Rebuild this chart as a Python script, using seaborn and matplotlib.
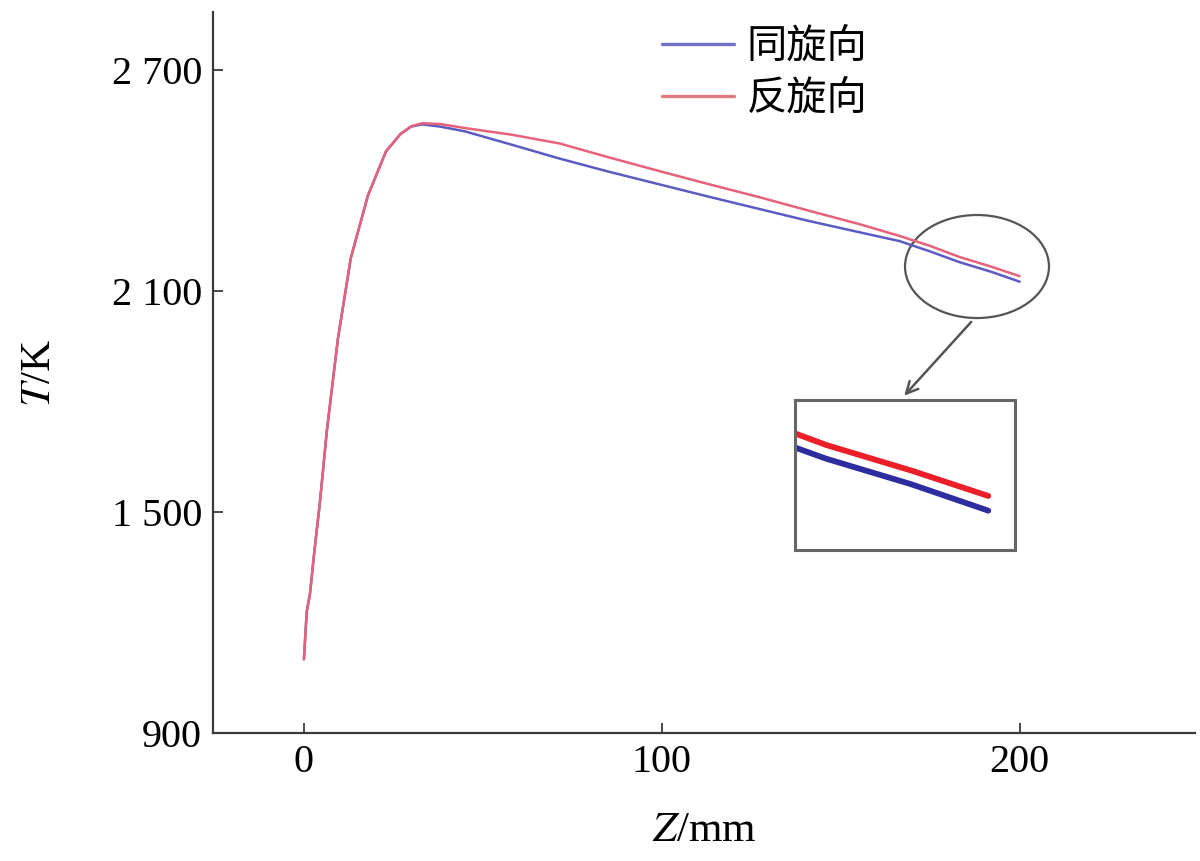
import numpy as np
import pandas as pd
import matplotlib
matplotlib.use("Agg")
import matplotlib.pyplot as plt
from matplotlib.patches import Ellipse
from matplotlib.lines import Line2D
import seaborn as sns

# ---- data ----
z_mm = [0, 0.8, 1.7, 3.0, 4.4, 6.4, 9.5, 13.1, 17.9, 22.9, 27, 30, 33, 38, 45,
        58, 71.5, 85, 99.4, 113, 127.4, 141, 155.3, 166.5, 175, 183.2, 192, 200]
t_same = [1100, 1230, 1278, 1400, 1519, 1719, 1970, 2189, 2359, 2478, 2526, 2546,
          2552, 2546, 2533, 2497, 2459, 2424, 2389, 2356, 2322, 2290, 2259, 2235,
          2207, 2178, 2152, 2125]
t_rev = [1100, 1230, 1278, 1400, 1519, 1719, 1970, 2189, 2359, 2478, 2526, 2547,
         2555, 2553, 2542, 2524, 2500, 2463, 2425, 2390, 2354, 2318, 2281, 2249,
         2222, 2192, 2166, 2140]
series_names = ["同旋向", "反旋向"]
y_ticks = [900, 1500, 2100, 2700]
x_ticks = [0, 100, 200]

df = pd.DataFrame({
    "Z": z_mm + z_mm,
    "T": t_same + t_rev,
    "case": [series_names[0]] * len(z_mm) + [series_names[1]] * len(z_mm),
})

sns.set_theme(style="white")
plt.rcParams["font.family"] = ["Liberation Serif", "Noto Sans CJK SC", "DejaVu Sans"]
plt.rcParams["mathtext.fontset"] = "stix"
plt.rcParams["text.color"] = "black"
plt.rcParams["axes.labelcolor"] = "black"

fig = plt.figure(figsize=(12, 8.61), dpi=100)
L, R, T_, B = 213, 1195, 12, 733
ax = fig.add_axes([L / 1200, 1 - B / 861, (R - L) / 1200, (B - T_) / 861])

main_pal = {series_names[0]: "#5b5bc4", series_names[1]: "#e6627a"}
sns.lineplot(data=df, x="Z", y="T", hue="case", palette=main_pal, ax=ax,
             linewidth=1.8, legend=False, sort=False)

ax.set_xlim(-25.4, 249)
ax.set_ylim(900, 2857)
for s in ["top", "right"]:
    ax.spines[s].set_visible(False)
for s in ["left", "bottom"]:
    ax.spines[s].set_color("#3a3a3a")
    ax.spines[s].set_linewidth(1.6)

ax.set_xticks(x_ticks)
ax.set_xticklabels([str(v) for v in x_ticks])
ax.set_yticks(y_ticks)
ax.set_yticklabels([f"{v:,}".replace(",", " ") for v in y_ticks])
ax.tick_params(axis="both", direction="in", length=7, width=1.3, color="#3a3a3a",
               labelsize=29, pad=8, labelcolor="black", bottom=True, left=True)
ax.yaxis.get_major_ticks()[0].tick1line.set_visible(False)

ax.set_xlabel(r"$Z$/mm", fontsize=31, labelpad=22)
ax.set_ylabel(r"$T$/K", fontsize=31, labelpad=38)

# legend
legend_pal = {series_names[0]: "#6f6fcc", series_names[1]: "#e27a80"}
handles = [Line2D([], [], color=legend_pal[n], lw=2.4) for n in series_names]
leg = ax.legend(handles, series_names, loc="upper left",
                bbox_to_anchor=(0.457, 0.981), frameon=False,
                prop={"family": ["Noto Sans CJK SC"], "size": 29},
                handlelength=1.8, handletextpad=0.3, labelspacing=0.28,
                borderpad=0, borderaxespad=0)
for t in leg.get_texts():
    t.set_color("black")

# ellipse + arrow
ell = Ellipse((0.778, 0.647), 0.1466, 0.1429, transform=ax.transAxes,
              fill=False, edgecolor="#555555", lw=1.6)
ax.add_patch(ell)
ax.annotate("", xy=(0.702, 0.465), xytext=(0.774, 0.573),
            xycoords="axes fraction", textcoords="axes fraction",
            arrowprops=dict(arrowstyle="->,head_length=0.7,head_width=0.35",
                            color="#555555", lw=1.8))

# inset zoom
axin = ax.inset_axes([0.593, 0.254, 0.224, 0.208])
inset_pal = {series_names[0]: "#2d2da0", series_names[1]: "#ec1f28"}
sns.lineplot(data=df, x="Z", y="T", hue="case", palette=inset_pal, ax=axin,
             linewidth=4.2, legend=False, sort=False)
axin.set_xlim(180, 202.8)
axin.set_ylim(2085, 2238)
axin.set_xticks([])
axin.set_yticks([])
axin.set_xlabel("")
axin.set_ylabel("")
for s in axin.spines.values():
    s.set_visible(True)
    s.set_color("#666666")
    s.set_linewidth(2.2)

fig.savefig("out.png", dpi=100)
